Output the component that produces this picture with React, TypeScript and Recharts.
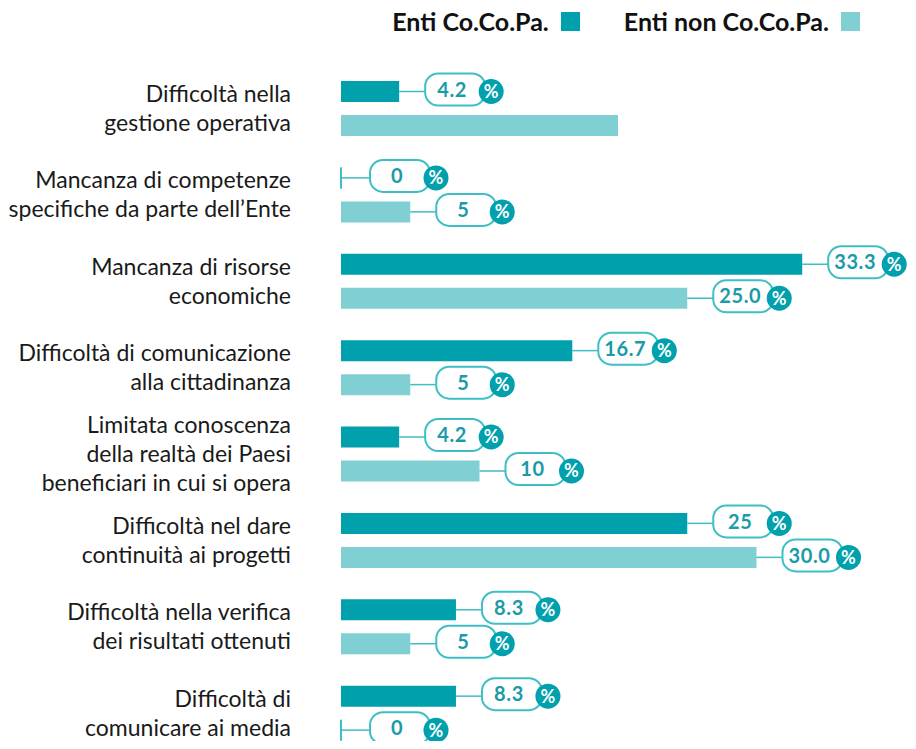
import React from 'react';
import { BarChart, Bar, XAxis, YAxis, Legend, LabelList } from 'recharts';

const categories: string[] = [
  'Difficoltà nella\ngestione operativa',
  'Mancanza di competenze\nspecifiche da parte dell’Ente',
  'Mancanza di risorse\neconomiche',
  'Difficoltà di comunicazione\nalla cittadinanza',
  'Limitata conoscenza\ndella realtà dei Paesi\nbeneficiari in cui si opera',
  'Difficoltà nel dare\ncontinuità ai progetti',
  'Difficoltà nella verifica\ndei risultati ottenuti',
  'Difficoltà di\ncomunicare ai media',
];

const cocoValues: number[] = [4.2, 0, 33.3, 16.7, 4.2, 25, 8.3, 8.3];
const nonCocoValues: number[] = [20, 5, 25.0, 5, 10, 30.0, 5, 0];

const cocoLabels: (string | null)[] = ['4.2', '0', '33.3', '16.7', '4.2', '25', '8.3', '8.3'];
const nonCocoLabels: (string | null)[] = [null, '5', '25.0', '5', '10', '30.0', '5', '0'];

const seriesNames = ['Enti Co.Co.Pa.', 'Enti non Co.Co.Pa.'];

const DARK = '#00A0AD';
const LIGHT = '#80CFD3';
const BOX_STROKE = '#3DBFC5';
const LABEL_TEXT = '#1A9BA7';
const FONT = "'Source Sans Pro', Lato, sans-serif";

const data = categories.map((c, i) => ({
  category: c,
  coco: cocoValues[i],
  nonCoco: nonCocoValues[i],
  cocoLabel: cocoLabels[i],
  nonCocoLabel: nonCocoLabels[i],
}));

const CategoryTick = (props: any) => {
  const { x, y, payload } = props;
  const lines = String(payload.value).split('\n');
  const lh = 29;
  return (
    <text x={x} y={y} textAnchor="end" fill="#1a1a1a" fontSize={23} fontFamily={FONT}>
      {lines.map((l, i) => (
        <tspan key={i} x={x} y={y + (i - (lines.length - 1) / 2) * lh} dy="0.36em">
          {l}
        </tspan>
      ))}
    </text>
  );
};

const Callout = (props: any) => {
  const { x, y, width, height, value } = props;
  if (value == null || value === '') return null;
  const cy = y + height / 2;
  const isZero = String(value) === '0';
  const endX = isZero ? x : x + width;
  const boxX = endX + (isZero ? 29 : 26);
  return (
    <g>
      {isZero && (
        <line x1={x} x2={x} y1={y} y2={y + height} stroke={BOX_STROKE} strokeWidth={2} />
      )}
      <line x1={endX} x2={boxX} y1={cy} y2={cy} stroke={BOX_STROKE} strokeWidth={1.5} />
      <rect x={boxX} y={cy - 18} width={60} height={32} rx={13} fill="#fff" stroke={BOX_STROKE} strokeWidth={2} />
      <text
        x={boxX + 27}
        y={cy - 2}
        dy="0.36em"
        textAnchor="middle"
        fill={LABEL_TEXT}
        fontWeight={700}
        fontSize={20}
        letterSpacing={0.6}
        fontFamily={FONT}
      >
        {value}
      </text>
      <circle cx={boxX + 66} cy={cy} r={12.5} fill={DARK} />
      <text
        x={boxX + 66}
        y={cy}
        dy="0.36em"
        textAnchor="middle"
        fill="#fff"
        fontWeight={700}
        fontSize={18}
        fontFamily={FONT}
      >
        %
      </text>
    </g>
  );
};

const LegendContent = () => (
  <div
    style={{
      width: 908,
      height: 32,
      display: 'flex',
      justifyContent: 'flex-end',
      alignItems: 'flex-start',
      paddingRight: 56,
      boxSizing: 'border-box',
      fontFamily: FONT,
      fontWeight: 700,
      fontSize: 25,
      lineHeight: 'normal',
      color: '#111',
    }}
  >
    {seriesNames.map((name, i) => (
      <div key={name} style={{ marginLeft: i === 0 ? 0 : 44, whiteSpace: 'nowrap' }}>
        <span>{name}</span>
        <span
          style={{
            display: 'inline-block',
            width: 19,
            height: 19,
            marginLeft: 12,
            background: i === 0 ? DARK : LIGHT,
          }}
        />
      </div>
    ))}
  </div>
);

export default function App() {
  return (
    <div style={{ marginTop: -2, marginBottom: -8 }}>
      <BarChart
        width={908}
        height={743}
        data={data}
        layout="vertical"
        margin={{ top: 27, right: 21, left: 0, bottom: -7 }}
        barSize={21}
        barGap={13}
      >
        <XAxis type="number" domain={[0, 40]} hide />
        <YAxis
          type="category"
          dataKey="category"
          width={333}
          axisLine={false}
          tickLine={false}
          tickSize={0}
          tickMargin={50}
          interval={0}
          tick={<CategoryTick />}
        />
        <Legend
          verticalAlign="top"
          height={32}
          content={<LegendContent />}
          wrapperStyle={{ top: 0, left: 0, width: 908, height: 32 }}
        />
        <Bar dataKey="coco" name={seriesNames[0]} fill={DARK} minPointSize={1} isAnimationActive={false}>
          <LabelList dataKey="cocoLabel" content={<Callout />} />
        </Bar>
        <Bar dataKey="nonCoco" name={seriesNames[1]} fill={LIGHT} minPointSize={1} isAnimationActive={false}>
          <LabelList dataKey="nonCocoLabel" content={<Callout />} />
        </Bar>
      </BarChart>
    </div>
  );
}
